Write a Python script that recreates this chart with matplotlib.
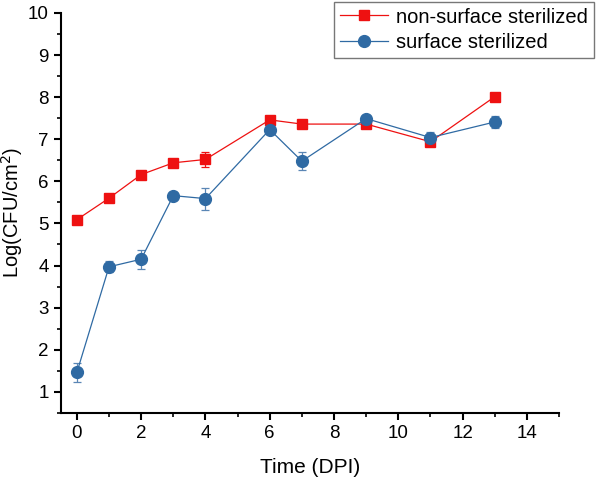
import matplotlib
matplotlib.use("Agg")
import matplotlib.pyplot as plt
from matplotlib.ticker import MultipleLocator

plt.rcParams['font.family'] = ['Liberation Sans', 'DejaVu Sans']

days = [0, 1, 2, 3, 4, 6, 7, 9, 11, 13]
non_sterilized = [5.09, 5.60, 6.16, 6.44, 6.52, 7.46, 7.36, 7.36, 6.94, 8.01]
non_sterilized_err = [0.05, 0.05, 0.05, 0.06, 0.17, 0.04, 0.05, 0.05, 0.08, 0.04]
sterilized = [1.46, 3.97, 4.15, 5.66, 5.59, 7.23, 6.48, 7.49, 7.04, 7.41]
sterilized_err = [0.23, 0.13, 0.23, 0.09, 0.26, 0.05, 0.21, 0.06, 0.14, 0.15]

red = '#ee1111'
blue = '#2f6aa3'

fig = plt.figure(figsize=(5.96, 4.79), dpi=100)
ax = fig.add_axes([0.102, 0.138, 0.836, 0.835])

e1 = ax.errorbar(days, non_sterilized, yerr=non_sterilized_err, color=red, marker='s',
                 markersize=7.5, lw=0.9, capsize=3, elinewidth=0.9, capthick=0.9,
                 label='non-surface sterilized')
e2 = ax.errorbar(days, sterilized, yerr=sterilized_err, color=blue, marker='o',
                 markersize=8.5, lw=0.9, capsize=3, elinewidth=0.9, capthick=0.9,
                 ecolor='#5a86b5', label='surface sterilized')

ax.set_xlim(-0.5, 15)
ax.set_ylim(0.5, 10)
ax.xaxis.set_major_locator(MultipleLocator(2))
ax.xaxis.set_minor_locator(MultipleLocator(1))
ax.yaxis.set_major_locator(MultipleLocator(1))
ax.yaxis.set_minor_locator(MultipleLocator(0.5))
ax.spines['top'].set_visible(False)
ax.spines['right'].set_visible(False)
for s in ('left', 'bottom'):
    ax.spines[s].set_linewidth(1.5)
ax.tick_params(which='major', direction='out', length=5, width=1.5, labelsize=13.5)
ax.tick_params(which='minor', direction='out', length=3, width=1.2)

ax.set_xlabel('Time (DPI)', fontsize=15, labelpad=12)
ax.set_ylabel('Log(CFU/cm$^2$)', fontsize=14.5, labelpad=2)

leg = fig.legend([e1[0], e2[0]], ['non-surface sterilized', 'surface sterilized'],
                 loc='upper right', bbox_to_anchor=(594 / 596, 1 - 1.5 / 479),
                 bbox_transform=fig.transFigure, fontsize=14.5,
                 frameon=True, fancybox=False, edgecolor='#555555',
                 handlelength=2.4, borderpad=0.3, labelspacing=0.3,
                 handletextpad=0.4, borderaxespad=0)
leg.get_frame().set_linewidth(1.0)

fig.savefig('out.png', dpi=100)
